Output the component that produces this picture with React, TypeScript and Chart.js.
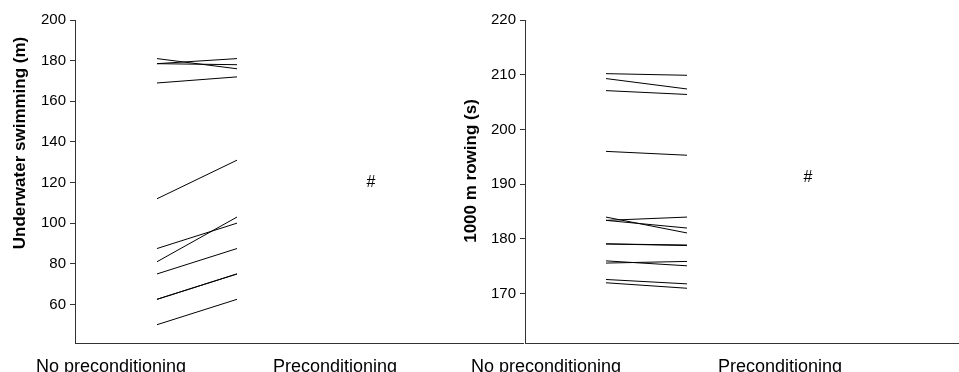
import React, { useEffect, useRef } from "react";
import { Chart, registerables } from "chart.js";

Chart.register(...registerables);

// ---- Data ----
const conditions = ["No preconditioning", "Preconditioning"];

const swimTitle = "Underwater swimming (m)";
const swimNoPre = [181, 178.5, 178.5, 169, 112, 87.5, 81, 75, 62.5, 62.5, 50];
const swimPre = [176, 181, 178, 172, 131, 100, 103, 87.5, 75, 75, 62.5];
const swimTicks = [60, 80, 100, 120, 140, 160, 180, 200];
const swimSignificance = 120;

const rowTitle = "1000 m rowing (s)";
const rowNoPre = [210.2, 209.3, 207.1, 196.0, 184.0, 183.4, 183.4, 179.1, 179.1, 176.0, 175.6, 172.6, 172.0];
const rowPre = [209.9, 207.4, 206.4, 195.3, 181.1, 184.0, 182.0, 178.9, 178.8, 175.1, 175.9, 171.8, 171.0];
const rowTicks = [170, 180, 190, 200, 210, 220];
const rowSignificance = 191.2;

const significanceMark = "#";

// ---- Layout (positions / sizes, not data) ----
const W = 959;
const H = 372;
const FONT = '"Liberation Sans", Arial, Helvetica, sans-serif';
const AXIS_COLOR = "#333";

type PanelCfg = {
  title: string;
  before: number[];
  after: number[];
  ticks: number[];
  sig: number;
  yMin: number;
  yMax: number;
  xMin: number;
  xMax: number;
  pointX: [number, number];
  labelX: number[];
  sigX: number;
  padLeft: number;
  padRight: number;
  titleX: number;
  titleY: number;
};

const panels: PanelCfg[] = [
  {
    title: swimTitle,
    before: swimNoPre,
    after: swimPre,
    ticks: swimTicks,
    sig: swimSignificance,
    yMin: 41,
    yMax: 200,
    xMin: -0.025,
    xMax: 5.575,
    pointX: [1, 2],
    labelX: [0.425, 3.225],
    sigX: 3.675,
    padLeft: 0,
    padRight: W - 523,
    titleX: 20,
    titleY: 143,
  },
  {
    title: rowTitle,
    before: rowNoPre,
    after: rowPre,
    ticks: rowTicks,
    sig: rowSignificance,
    yMin: 161,
    yMax: 220,
    xMin: 0,
    xMax: 5.358,
    pointX: [1, 2],
    labelX: [0.259, 3.148],
    sigX: 3.494,
    padLeft: 450,
    padRight: 0,
    titleX: 471,
    titleY: 171,
  },
];

function textPlugin(cfg: PanelCfg) {
  return {
    id: "panelText",
    afterDraw(chart: any) {
      const ctx = chart.ctx;
      const xs = chart.scales.x;
      const ys = chart.scales.y;
      ctx.save();
      ctx.fillStyle = "#000";
      ctx.font = `bold 17px ${FONT}`;
      ctx.textAlign = "center";
      ctx.textBaseline = "middle";
      ctx.translate(cfg.titleX, cfg.titleY);
      ctx.rotate(-Math.PI / 2);
      ctx.fillText(cfg.title, 0, 0);
      ctx.restore();

      ctx.save();
      ctx.fillStyle = "#000";
      ctx.font = `16px ${FONT}`;
      ctx.textAlign = "center";
      ctx.textBaseline = "middle";
      ctx.fillText(significanceMark, xs.getPixelForValue(cfg.sigX), ys.getPixelForValue(cfg.sig));
      ctx.restore();
    },
  };
}

function makeChart(canvas: HTMLCanvasElement, cfg: PanelCfg) {
  const datasets = cfg.before.map((b, i) => ({
    data: [
      { x: cfg.pointX[0], y: b },
      { x: cfg.pointX[1], y: cfg.after[i] },
    ],
    showLine: true,
    borderColor: "#000",
    borderWidth: 1,
    pointRadius: 0,
    fill: false,
  }));
  return new Chart(canvas, {
    type: "scatter",
    data: { datasets },
    options: {
      responsive: false,
      animation: false,
      devicePixelRatio: 1,
      layout: { padding: { left: cfg.padLeft, right: cfg.padRight, top: 20, bottom: 0 } },
      plugins: { legend: { display: false }, tooltip: { enabled: false } },
      scales: {
        x: {
          type: "linear",
          min: cfg.xMin,
          max: cfg.xMax,
          grid: { display: false },
          border: { display: true, color: AXIS_COLOR, width: 1 },
          afterBuildTicks: (scale: any) => {
            scale.ticks = cfg.labelX.map((v) => ({ value: v }));
          },
          afterFit: (scale: any) => {
            scale.height = 29;
          },
          ticks: {
            autoSkip: false,
            maxRotation: 0,
            minRotation: 0,
            padding: 5,
            color: "#000",
            font: { family: FONT, size: 18 },
            callback: (_v: any, index: number) => conditions[index],
          },
        },
        y: {
          type: "linear",
          min: cfg.yMin,
          max: cfg.yMax,
          grid: {
            display: true,
            drawOnChartArea: false,
            drawTicks: true,
            tickLength: 5,
            color: AXIS_COLOR,
          },
          border: { display: true, color: AXIS_COLOR, width: 1 },
          afterBuildTicks: (scale: any) => {
            scale.ticks = cfg.ticks.map((v) => ({ value: v }));
          },
          afterFit: (scale: any) => {
            scale.width = 75;
          },
          ticks: {
            padding: 4,
            color: "#000",
            font: { family: FONT, size: 15 },
          },
        },
      },
    } as any,
    plugins: [textPlugin(cfg)],
  });
}

function Panel({ cfg }: { cfg: PanelCfg }) {
  const ref = useRef<HTMLCanvasElement | null>(null);
  useEffect(() => {
    if (!ref.current) return;
    const chart = makeChart(ref.current, cfg);
    return () => chart.destroy();
  }, [cfg]);
  return (
    <canvas
      ref={ref}
      width={W}
      height={H}
      style={{ position: "absolute", left: 0, top: 0, width: W, height: H }}
    />
  );
}

export default function App() {
  return (
    <div style={{ position: "absolute", left: 0, top: 0, width: W, height: H, background: "#fff", overflow: "hidden" }}>
      {panels.map((p, i) => (
        <Panel key={i} cfg={p} />
      ))}
    </div>
  );
}
